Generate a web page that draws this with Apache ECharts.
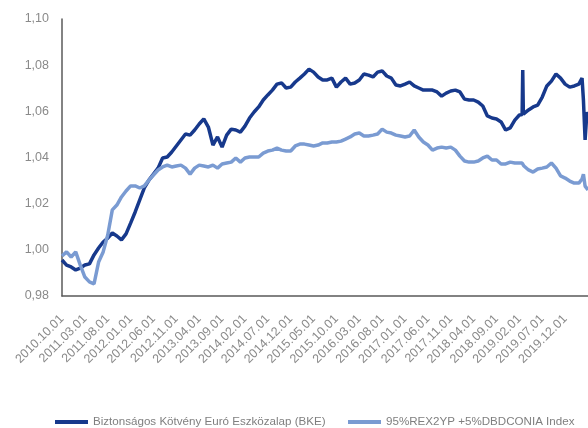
<!DOCTYPE html>
<html>
<head>
<meta charset="utf-8">
<script src="https://cdn.jsdelivr.net/npm/echarts@6/dist/echarts.min.js"></script>
<style>html,body{margin:0;padding:0;background:#fff}#c{width:588px;height:428px}</style>
</head>
<body>
<div id="c"></div>
<script>
const dates = [
 "2010.10.01","2010.11.01","2010.12.01",
 "2011.01.01","2011.02.01","2011.03.01","2011.04.01","2011.05.01","2011.06.01","2011.07.01","2011.08.01","2011.09.01","2011.10.01","2011.11.01","2011.12.01",
 "2012.01.01","2012.02.01","2012.03.01","2012.04.01","2012.05.01","2012.06.01","2012.07.01","2012.08.01","2012.09.01","2012.10.01","2012.11.01","2012.12.01",
 "2013.01.01","2013.02.01","2013.03.01","2013.04.01","2013.05.01","2013.06.01","2013.07.01","2013.08.01","2013.09.01","2013.10.01","2013.11.01","2013.12.01",
 "2014.01.01","2014.02.01","2014.03.01","2014.04.01","2014.05.01","2014.06.01","2014.07.01","2014.08.01","2014.09.01","2014.10.01","2014.11.01","2014.12.01",
 "2015.01.01","2015.02.01","2015.03.01","2015.04.01","2015.05.01","2015.06.01","2015.07.01","2015.08.01","2015.09.01","2015.10.01","2015.11.01","2015.12.01",
 "2016.01.01","2016.02.01","2016.03.01","2016.04.01","2016.05.01","2016.06.01","2016.07.01","2016.08.01","2016.09.01","2016.10.01","2016.11.01","2016.12.01",
 "2017.01.01","2017.02.01","2017.03.01","2017.04.01","2017.05.01","2017.06.01","2017.07.01","2017.08.01","2017.09.01","2017.10.01","2017.11.01","2017.12.01",
 "2018.01.01","2018.02.01","2018.03.01","2018.04.01","2018.05.01","2018.06.01","2018.07.01","2018.08.01","2018.09.01","2018.10.01","2018.11.01","2018.12.01",
 "2019.01.01","2019.02.01","2019.02.19","2019.02.23","2019.02.27","2019.03.01","2019.04.01","2019.05.01","2019.06.01","2019.07.01","2019.08.01","2019.09.01","2019.10.01","2019.11.01","2019.12.01",
 "2020.01.01","2020.02.01","2020.03.01","2020.03.22","2020.04.01","2020.04.12","2020.04.24","2020.05.01"
];
const bke = [
 0.9956,0.9934,0.9926,
 0.9913,0.9921,0.9934,0.9939,0.9978,1.0008,1.0034,1.0051,1.0073,1.0060,1.0043,1.0069,
 1.0116,1.0164,1.0216,1.0268,1.0302,1.0328,1.0354,1.0398,1.0402,1.0424,1.0450,1.0476,
 1.0502,1.0497,1.0519,1.0545,1.0567,1.0532,1.0454,1.0489,1.0445,1.0497,1.0523,1.0519,
 1.0510,1.0536,1.0571,1.0597,1.0619,1.0649,1.0671,1.0692,1.0718,1.0723,1.0701,1.0705,
 1.0727,1.0744,1.0762,1.0783,1.0770,1.0749,1.0736,1.0736,1.0744,1.0705,1.0727,1.0744,
 1.0718,1.0723,1.0736,1.0762,1.0757,1.0749,1.0770,1.0775,1.0753,1.0744,1.0714,1.0710,
 1.0718,1.0727,1.0710,1.0701,1.0692,1.0692,1.0692,1.0684,1.0666,1.0679,1.0688,1.0692,
 1.0684,1.0653,1.0649,1.0649,1.0640,1.0623,1.0580,1.0571,1.0567,1.0554,1.0519,1.0528,
 1.0562,1.0584,1.0586,1.0779,1.0588,1.0589,1.0606,1.0619,1.0627,1.0662,1.0710,1.0731,1.0762,1.0744,1.0718,
 1.0705,1.0710,1.0718,1.0744,1.0649,1.0476,1.0597,1.0571
];
const benchmark = [
 0.9973,0.9991,0.9969,
 0.9991,0.9934,0.9882,0.9861,0.9852,0.9947,0.9991,1.0064,1.0173,1.0194,1.0229,1.0255,
 1.0277,1.0277,1.0268,1.0277,1.0302,1.0324,1.0346,1.0359,1.0367,1.0359,1.0363,1.0367,
 1.0354,1.0328,1.0354,1.0367,1.0363,1.0359,1.0367,1.0354,1.0372,1.0376,1.0380,1.0398,
 1.0380,1.0398,1.0402,1.0402,1.0402,1.0419,1.0428,1.0432,1.0441,1.0432,1.0428,1.0428,
 1.0450,1.0458,1.0458,1.0454,1.0450,1.0454,1.0463,1.0463,1.0467,1.0467,1.0471,1.0480,
 1.0489,1.0502,1.0506,1.0493,1.0493,1.0497,1.0502,1.0523,1.0510,1.0506,1.0497,1.0493,
 1.0489,1.0493,1.0519,1.0489,1.0467,1.0454,1.0432,1.0441,1.0445,1.0441,1.0445,1.0432,
 1.0406,1.0385,1.0380,1.0380,1.0385,1.0398,1.0406,1.0389,1.0389,1.0372,1.0372,1.0380,
 1.0376,1.0376,1.0376,1.0374,1.0370,1.0363,1.0346,1.0337,1.0350,1.0354,1.0359,1.0376,1.0354,1.0320,1.0311,
 1.0298,1.0289,1.0289,1.0307,1.0328,1.0276,1.0268,1.0259
];
const xTickLabels = ["2010.10.01","2011.03.01","2011.08.01","2012.01.01","2012.06.01","2012.11.01","2013.04.01","2013.09.01","2014.02.01","2014.07.01","2014.12.01","2015.05.01","2015.10.01","2016.03.01","2016.08.01","2017.01.01","2017.06.01","2017.11.01","2018.04.01","2018.09.01","2019.02.01","2019.07.01","2019.12.01"];
const yTickLabels = ["0,98","1,00","1,02","1,04","1,06","1,08","1,10"];
const seriesNames = ["Biztonságos Kötvény Euró Eszközalap (BKE)","95%REX2YP +5%DBDCONIA Index"];

function monthIndex(s){
  const p = s.split('.').map(Number);
  return (p[0]-2010)*12 + (p[1]-10) + (p[2]-1)/30;
}
const toPairs = vals => dates.map((d,i)=>[monthIndex(d), vals[i]]);
const FONT = 'Liberation Sans, Arial, sans-serif';
const legendBase = {
  top:416, padding:0, itemWidth:33, itemHeight:4, itemGap:5, icon:'rect',
  textStyle:{color:'#7f7f7f', fontSize:11.6, fontFamily:FONT}
};

const chart = echarts.init(document.getElementById('c'), null, {renderer:'canvas'});
chart.setOption({
  animation:false,
  backgroundColor:'#fff',
  textStyle:{fontFamily:FONT},
  grid:{left:62, top:19, right:0, bottom:132, containLabel:false},
  legend:[
    Object.assign({}, legendBase, {left:55, data:[seriesNames[0]]}),
    Object.assign({}, legendBase, {left:348, data:[seriesNames[1]]})
  ],
  xAxis:{
    type:'value', min:0, max:115, interval:5,
    axisLine:{show:true, lineStyle:{color:'#5a5a5a', width:1.5}},
    axisTick:{show:false},
    splitLine:{show:false},
    axisLabel:{
      rotate:45, margin:21, color:'#8a8a8a', fontSize:12.5,
      showMaxLabel:false,
      formatter: v => { const i = Math.round(v/5); return xTickLabels[i] || ''; }
    }
  },
  yAxis:{
    type:'value', min:0.98, max:1.10, interval:0.02,
    axisLine:{show:true, lineStyle:{color:'#5a5a5a', width:1.5}},
    axisTick:{show:false},
    splitLine:{show:false},
    axisLabel:{
      margin:13, color:'#8a8a8a', fontSize:12.5,
      formatter: v => yTickLabels[Math.round((v-0.98)/0.02)] || ''
    }
  },
  series:[
    {name:seriesNames[0], type:'line', data:toPairs(bke), showSymbol:false, symbol:'none',
     lineStyle:{color:'#17398c', width:3.5}, itemStyle:{color:'#17398c'}, z:2},
    {name:seriesNames[1], type:'line', data:toPairs(benchmark), showSymbol:false, symbol:'none',
     lineStyle:{color:'#7a9bd2', width:3.5}, itemStyle:{color:'#7a9bd2'}, z:3}
  ]
});
</script>
</body>
</html>
